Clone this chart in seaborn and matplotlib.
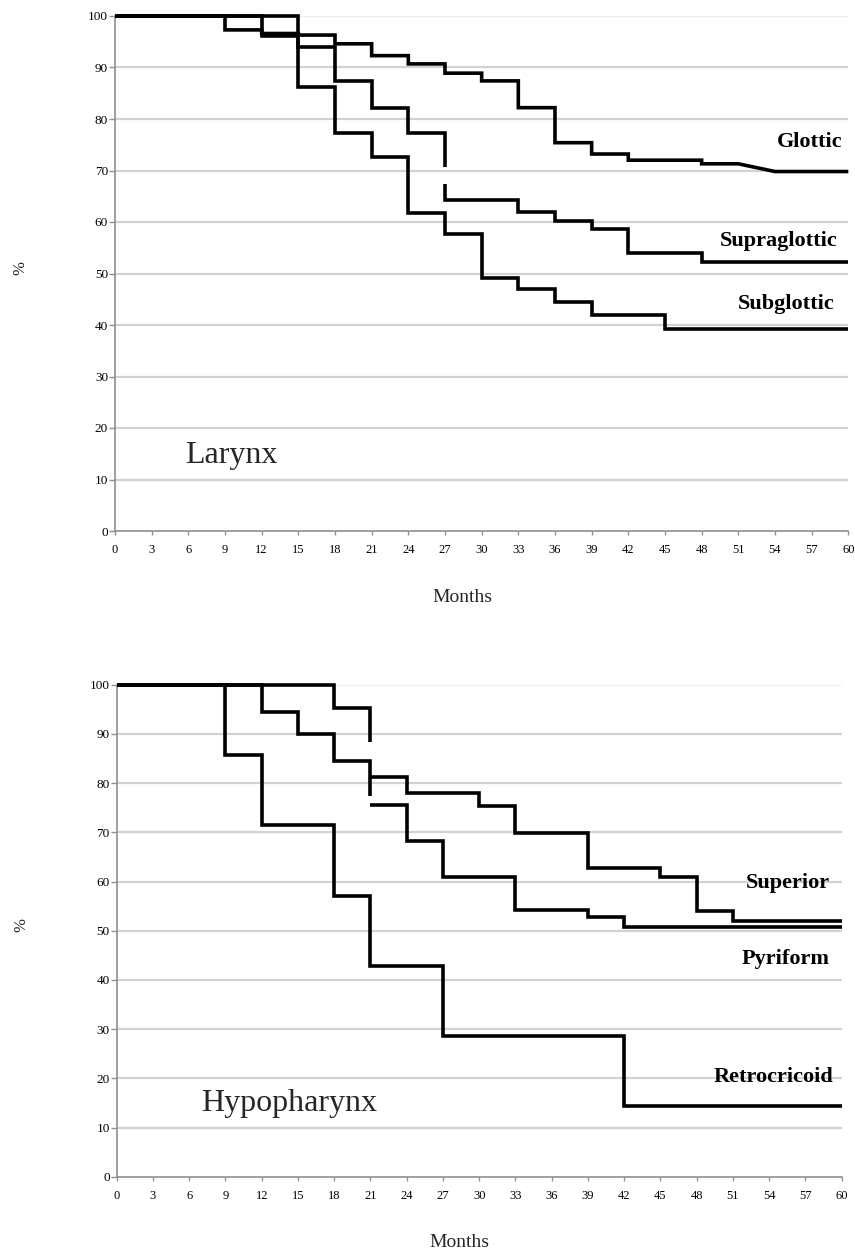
import numpy as np
import pandas as pd
import matplotlib
matplotlib.use("Agg")
import matplotlib.pyplot as plt
import seaborn as sns

sns.set_theme(style="white")
plt.rcParams['font.family'] = ['Liberation Serif', 'DejaVu Serif']

nan = np.nan

# ---------------- Larynx (top panel) ----------------
glottic_m = [0, 9, 9, 12, 12, 15, 15, 18, 18, 21, 21, 24, 24, 27, 27, 30, 30, 33, 33, 36, 36, 39, 39, 42, 42, 48, 48, 51, 54, 60]
glottic_v = [100, 100, 97.3, 97.3, 96.6, 96.6, 96.3, 96.3, 94.6, 94.6, 92.3, 92.3, 90.7, 90.7, 88.9, 88.9, 87.4, 87.4,
             82.2, 82.2, 75.4, 75.4, 73.2, 73.2, 72.0, 72.0, 71.3, 71.3, 69.8, 69.8]

supra_m = [0, 12, 12, 15, 15, 18, 18, 21, 21, 24, 24, 27, 27, nan, 27, 27, 33, 33, 36, 36, 39, 39, 42, 42, 48, 48, 60]
supra_v = [100, 100, 96.1, 96.1, 94.0, 94.0, 87.3, 87.3, 82.2, 82.2, 77.2, 77.2, 70.7, nan, 67.3, 64.3, 64.3,
           62.0, 62.0, 60.1, 60.1, 58.7, 58.7, 54.0, 54.0, 52.2, 52.2]

sub_m = [0, 15, 15, 18, 18, 21, 21, 24, 24, 27, 27, 30, 30, 33, 33, 36, 36, 39, 39, 45, 45, 60]
sub_v = [100, 100, 86.3, 86.3, 77.2, 77.2, 72.6, 72.6, 61.8, 61.8, 57.6, 57.6, 49.1, 49.1, 47.0, 47.0,
         44.4, 44.4, 41.9, 41.9, 39.3, 39.3]

# ---------------- Hypopharynx (bottom panel) ----------------
superior_m = [0, 18, 18, 21, 21, nan, 21, 24, 24, 30, 30, 33, 33, 39, 39, 45, 45, 48, 48, 51, 51, 60]
superior_v = [100, 100, 95.2, 95.2, 88.4, nan, 81.3, 81.3, 77.9, 77.9, 75.4, 75.4, 69.9, 69.9, 62.8, 62.8,
              60.9, 60.9, 54.0, 54.0, 52.0, 52.0]

pyriform_m = [0, 12, 12, 15, 15, 18, 18, 21, 21, nan, 21, 24, 24, 27, 27, 33, 33, 39, 39, 42, 42, 60]
pyriform_v = [100, 100, 94.5, 94.5, 90.0, 90.0, 84.5, 84.5, 77.4, nan, 75.6, 75.6, 68.3, 68.3, 60.9, 60.9,
              54.3, 54.3, 52.7, 52.7, 50.7, 50.7]

retro_m = [0, 9, 9, 12, 12, 18, 18, 21, 21, 27, 27, 42, 42, 60]
retro_v = [100, 100, 85.7, 85.7, 71.4, 71.4, 57.1, 57.1, 42.9, 42.9, 28.6, 28.6, 14.3, 14.3]

x_ticks = list(range(0, 61, 3))
y_ticks = list(range(0, 101, 10))

top_labels = ["Glottic", "Supraglottic", "Subglottic"]
bottom_labels = ["Superior", "Pyriform", "Retrocricoid"]


def to_frame(curves):
    rows = []
    seg = 0
    for name, ms, vs in curves:
        for m, v in zip(ms, vs):
            if np.isnan(m):
                seg += 1
                continue
            rows.append((name, seg, m, v))
        seg += 1
    return pd.DataFrame(rows, columns=["curve", "seg", "month", "pct"])


top_df = to_frame([("Glottic", glottic_m, glottic_v),
                   ("Supraglottic", supra_m, supra_v),
                   ("Subglottic", sub_m, sub_v)])
bot_df = to_frame([("Superior", superior_m, superior_v),
                   ("Pyriform", pyriform_m, pyriform_v),
                   ("Retrocricoid", retro_m, retro_v)])

W, H = 855, 1249
fig = plt.figure(figsize=(W / 100, H / 100), dpi=100)

ax1 = fig.add_axes([115 / W, 1 - 531 / H, (848.3 - 115) / W, (531 - 16) / H])
ax2 = fig.add_axes([116.7 / W, 1 - 1176.7 / H, (841.7 - 116.7) / W, 492 / H])

spine_col = "#8f8f8f"
grid_col = "#d2d2d2"

for ax, df in ((ax1, top_df), (ax2, bot_df)):
    ax.set_xlim(0, 60)
    ax.set_ylim(0, 100)
    ax.set_xticks(x_ticks)
    ax.set_yticks(y_ticks)
    ax.set_xticklabels([str(t) for t in x_ticks])
    ax.set_yticklabels([str(t) for t in y_ticks])
    for t in y_ticks[1:]:
        ax.axhline(t, color=grid_col if t < 100 else "#eeeeee", lw=1.6, zorder=0)
    for s in ("top", "right"):
        ax.spines[s].set_visible(False)
    for s in ("left", "bottom"):
        ax.spines[s].set_color(spine_col)
        ax.spines[s].set_linewidth(1.2)
    ax.tick_params(axis="x", direction="out", length=3, width=1, color=spine_col,
                   labelsize=9, pad=6.5, labelcolor="black")
    ax.tick_params(axis="y", direction="out", length=4, width=1, color=spine_col,
                   labelsize=9.5, pad=1, labelcolor="black")
    ax.tick_params(bottom=True, left=True)
    sns.lineplot(data=df, x="month", y="pct", units="seg", estimator=None, sort=False,
                 color="black", lw=2.6, ax=ax, legend=False, clip_on=False,
                 solid_joinstyle="miter", solid_capstyle="butt", zorder=3)
    ax.set_xlabel("")
    ax.set_ylabel("")
    ax.set_facecolor("white")

lab_kw = dict(fontsize=16, fontweight="bold", ha="right", va="baseline", color="black")
ax1.text(59.5, 74.6, top_labels[0], **lab_kw)
ax1.text(59.1, 55.4, top_labels[1], **lab_kw)
ax1.text(58.9, 43.2, top_labels[2], **lab_kw)
ax1.text(5.7, 13.3, "Larynx", fontsize=23, ha="left", va="baseline")

ax2.text(59.0, 58.6, bottom_labels[0], **lab_kw)
ax2.text(59.0, 43.2, bottom_labels[1], **lab_kw)
ax2.text(59.3, 19.3, bottom_labels[2], **lab_kw)
ax2.text(7.0, 13.4, "Hypopharynx", fontsize=23, ha="left", va="baseline")

fig.text(462.5 / W, 1 - 601.7 / H, "Months", fontsize=14, ha="center", va="baseline")
fig.text(459 / W, 1 - 1246.7 / H, "Months", fontsize=14, ha="center", va="baseline")
fig.text(20 / W, 1 - 268 / H, "%", fontsize=12, rotation=90, ha="center", va="center")
fig.text(21.7 / W, 1 - 925 / H, "%", fontsize=12, rotation=90, ha="center", va="center")

fig.savefig("out.png", dpi=100, facecolor="white")
